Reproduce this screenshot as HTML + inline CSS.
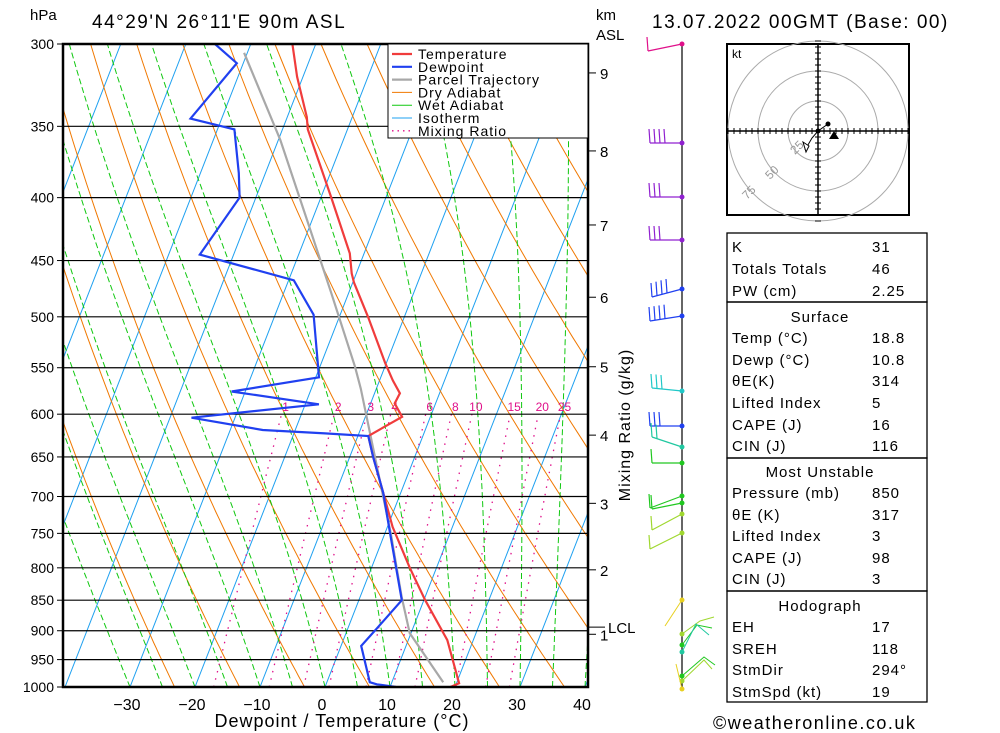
<!DOCTYPE html>
<html><head><meta charset="utf-8"><style>
html,body{margin:0;padding:0;background:#fff;}
svg{display:block;font-family:"Liberation Sans",sans-serif;}
</style></head><body>
<svg id="chart" width="1000" height="733" viewBox="0 0 1000 733" xmlns="http://www.w3.org/2000/svg">
<defs><clipPath id="plotclip"><rect x="63" y="44" width="525" height="643"/></clipPath></defs>
<rect width="1000" height="733" fill="#fff"/>
<g id="bg" clip-path="url(#plotclip)"></g>
<g id="prof" clip-path="url(#plotclip)"></g>
<g id="axes"></g>
<g id="legend">
 <rect x="388" y="44" width="200" height="94" fill="#fff" stroke="#000" stroke-width="1"/>
</g>
<text x="30" y="20" font-size="15">hPa</text>
<text x="92" y="28" font-size="19" letter-spacing="1.5">44°29'N 26°11'E 90m ASL</text>
<text x="596" y="20" font-size="15">km</text>
<text x="596" y="40" font-size="15">ASL</text>
<text x="652" y="28" font-size="19" letter-spacing="1.5">13.07.2022 00GMT (Base: 00)</text>
<text x="342" y="727" font-size="18" text-anchor="middle" letter-spacing="1">Dewpoint / Temperature (°C)</text>
<text transform="translate(630,425) rotate(-90)" font-size="16" text-anchor="middle" letter-spacing="1">Mixing Ratio (g/kg)</text>
<g id="winds"></g>
<g id="hodo"></g>
<g id="table"></g>
<text x="713" y="729" font-size="18" letter-spacing="1.5">©weatheronline.co.uk</text>
</svg>
<script>
// ---- data ----
const pressureLevels=[300,350,400,450,500,550,600,650,700,750,800,850,900,950,1000];
const tempTicks=[-30,-20,-10,0,10,20,30,40];
const tempP=[1000,993,916,850,800,741,695,650,625,603,588,577,563,545,500,469,461,444,400,352,344,319,300];
const tempT=[19.3,20.4,16.0,10.2,5.9,0.8,-2.7,-6.4,-8.4,-4.35,-6.3,-6.1,-8.0,-10.2,-15.6,-19.8,-20.7,-22.2,-28.4,-36.1,-37.0,-40.9,-43.6];
const dewP=[1000,995,991,926,895,850,750,695,650,625,622,618,604,589,575,560,498,467,445,400,382,352,345,311,300];
const dewT=[10.9,7.8,6.6,3.1,4.5,6.6,0.8,-2.7,-6.4,-8.4,-15.2,-25.0,-36.7,-17.9,-32.1,-19.5,-24.1,-29.2,-45.2,-42.5,-44.1,-47.4,-54.8,-51.0,-55.5];
const parcelP=[991,904,845,750,572,549,478,417,359,305];
const parcelT=[17.9,9.8,6.4,0.9,-12.4,-14.6,-22.7,-30.8,-39.7,-50.5];
const mixRatios=[1,2,3,4,6,8,10,15,20,25];
const kmLabels=[1,2,3,4,5,6,7,8,9];
const kmPressure=[906,803,709,624,549,482,421,366.5,316.7];
const lclPressure=894;
// ---- axes ----
const NS="http://www.w3.org/2000/svg";
function yOf(p){return 44+Math.log(p/300)/Math.log(1000/300)*643;}
function xOf(T,p){return 325+6.5*T+0.39*(687-yOf(p));}
function mk(tag,attrs,parent){const e=document.createElementNS(NS,tag);for(const k in attrs)e.setAttribute(k,attrs[k]);parent.appendChild(e);return e;}
function pathFrom(ps,ts){return ps.map((p,i)=>(i?'L':'M')+xOf(ts[i],p).toFixed(1)+','+yOf(p).toFixed(1)).join('');}
const bg=document.getElementById('bg');
for(let T=-130;T<=40;T+=10){
 const l=mk('line',{x1:xOf(T,1000),y1:yOf(1000),x2:xOf(T,300),y2:yOf(300),stroke:'#1ea0f0','stroke-width':1},bg);
 
 
}
for(let th=250;th<=520;th+=10){
 const ps=[],ts=[];for(let p=1000;p>=300;p-=10){ps.push(p);ts.push(th*Math.pow(p/1000,0.2857)-273.15);}
 const e=mk('path',{d:pathFrom(ps,ts),fill:'none',stroke:'#f07800','stroke-width':1},bg);
 
 
}
function es(Tc){return 6.112*Math.exp(17.67*Tc/(Tc+243.5));}
for(let tw=-30;tw<=45;tw+=5){
 const ps=[],ts=[];let T=tw+273.15;
 for(let p=1000;p>=300;p-=5){ps.push(p);ts.push(T-273.15);
  const e=es(T-273.15),rs=0.622*e/(p-e);
  const dTdp=(1/p)*(287*T+2.5e6*rs)/(1004+2.5e6*2.5e6*rs*0.622/(287*T*T));
  T-=dTdp*5;}
 const e=mk('path',{d:pathFrom(ps,ts),fill:'none',stroke:'#10c810','stroke-width':1,'stroke-dasharray':'6,3'},bg);
 
 
}
function tdFromW(w,p){const e=w*p/(622+w);const a=Math.log(e/6.112);return 243.5*a/(17.67-a);}
mixRatios.forEach(w=>{
 const ps=[],ts=[];for(let p=1000;p>=600;p-=10){ps.push(p);ts.push(tdFromW(w,p));}
 const e=mk('path',{d:pathFrom(ps,ts),fill:'none',stroke:'#e0108a','stroke-width':1.3,'stroke-dasharray':'1.5,6'},bg);
 
 
 const t=mk('text',{x:xOf(tdFromW(w,600),600)+4,y:yOf(600)-3,'font-size':12,fill:'#e0108a','text-anchor':'middle'},bg);
 t.textContent=w;
 
 
});
const ax=document.getElementById('axes');
pressureLevels.forEach(p=>{
 const y=yOf(p);
 const l=mk('line',{x1:63,y1:y,x2:588,y2:y,stroke:'#000','stroke-width':1.2},bg);
 
 
 const tk=mk('line',{x1:57,y1:y,x2:63,y2:y,stroke:'#000'},ax);
 
 
 const t=mk('text',{x:54,y:y+5,'font-size':14,'text-anchor':'end'},ax);
 t.textContent=p;
 
 
});
const frame=mk('rect',{x:63,y:44,width:525,height:643,fill:'none',stroke:'#000','stroke-width':2.5},ax);


tempTicks.forEach(T=>{
 const x=xOf(T,1000)-3;
 const t=mk('text',{x:x,y:710,'font-size':16,'text-anchor':'middle'},ax);
 t.textContent=T<0?'−'+(-T):T;
 
 
});
kmLabels.forEach((k,i)=>{
 const y=yOf(kmPressure[i]);
 const tk=mk('line',{x1:588,y1:y,x2:596,y2:y,stroke:'#000'},ax);
 
 
 const t=mk('text',{x:600,y:y+6,'font-size':15},ax);
 t.textContent=k;
 
 
});
{const y=yOf(lclPressure);const tk=mk('line',{x1:588,y1:y,x2:605,y2:y,stroke:'#000'},ax);
 
 const t=mk('text',{x:608,y:y+6,'font-size':15},ax);t.textContent='LCL';
 }
const pr=document.getElementById('prof');
const pc=mk('path',{d:pathFrom(parcelP,parcelT),fill:'none',stroke:'#a8a8a8','stroke-width':2.2},pr);


const tl=mk('path',{d:pathFrom(tempP,tempT),fill:'none',stroke:'#f03c3c','stroke-width':2.2},pr);


const dl=mk('path',{d:pathFrom(dewP,dewT),fill:'none',stroke:'#2040f0','stroke-width':2.2},pr);


const lg=document.getElementById('legend');
const legNames=['Temperature','Dewpoint','Parcel Trajectory','Dry Adiabat','Wet Adiabat','Isotherm','Mixing Ratio'];
const legColors=['#f03c3c','#2040f0','#a8a8a8','#f07800','#10c810','#1ea0f0','#e0108a'];
const legWidths=[2.2,2.2,2.2,1,1,1,1.3];
legNames.forEach((n,i)=>{
 const y=54+i*12.8;
 const l=mk('line',{x1:392,y1:y,x2:412,y2:y,stroke:legColors[i],'stroke-width':legWidths[i]},lg);
 if(i===6)l.setAttribute('stroke-dasharray','1.5,4');
 
 
 const t=mk('text',{x:418,y:y+5,'font-size':14,'letter-spacing':1},lg);
 t.textContent=n;
 
 
});
const wg=document.getElementById('winds');
const st=mk('line',{x1:682,y1:44,x2:682,y2:690,stroke:'#000','stroke-width':1.2},wg);


const barbY=[44,143,197,240,289,316,391,426,447,463,496,503,514,533];
const barbEndX=[648,650,650,650,652,650,652,650,652,652,650,652,652,650];
const barbEndY=[51,143,197,240,297,321,388,426,437,463,508,509,530,549];
const barbN=[1,4,3,3,4,4,3,3,2,1,1,1,1,1];
const barbCol=['#e0108a','#9020d0','#9020d0','#9020d0','#2040f0','#2040f0','#20c8c8','#2040f0','#20c8a0','#20c820','#20c820','#20c820','#a0d830','#a0d830'];
barbY.forEach((y,i)=>{
 const c=barbCol[i];
 const l=mk('line',{x1:682,y1:y,x2:barbEndX[i],y2:barbEndY[i],stroke:c,'stroke-width':1.2},wg);
 
 
 for(let k=0;k<barbN[i];k++){
  const fx=barbEndX[i]+k*5,fy=barbEndY[i]+(y-barbEndY[i])*(k*5)/(682-barbEndX[i]);
  const f=mk('line',{x1:fx,y1:fy,x2:fx-1,y2:fy-14,stroke:c,'stroke-width':1.2},wg);
  
  
 }
 const d=mk('circle',{cx:682,cy:y,r:2.5,fill:c},wg);
 
 
});
const lowBarbs=[[600,'#e8d020','M682,600 L665,626'],[634,'#a0d830','M682,634 L700,621 L714,617'],[645,'#20c820','M682,645 L697,625 L712,628'],[652,'#20c8a0','M682,652 L696,624 L709,635'],[676,'#20c820','M682,676 L704,657 L715,665'],[681,'#a0d830','M682,681 L704,660 L712,669'],[689,'#e8d020','M682,689 L676,664']];
lowBarbs.forEach(b=>{
 const p=mk('path',{d:b[2],fill:'none',stroke:b[1],'stroke-width':1},wg);
 
 
 const d=mk('circle',{cx:682,cy:b[0],r:2.5,fill:b[1]},wg);
 
 
});
const hg=document.getElementById('hodo');
const hb=mk('rect',{x:727,y:44,width:182,height:171,fill:'none',stroke:'#000','stroke-width':2},hg);

const hcx=818,hcy=131;
[30,60,90].forEach(r=>{const c=mk('circle',{cx:hcx,cy:hcy,r:r,fill:'none',stroke:'#aaa'},hg);
 });
mk('line',{x1:728,y1:hcy,x2:908,y2:hcy,stroke:'#000','stroke-width':1.5},hg);
mk('line',{x1:hcx,y1:45,x2:hcx,y2:214,stroke:'#000','stroke-width':1.5},hg);
for(let d=-90;d<=90;d+=6){mk('line',{x1:hcx+d,y1:hcy-3,x2:hcx+d,y2:hcy+3,stroke:'#000'},hg);mk('line',{x1:hcx-3,y1:hcy+d,x2:hcx+3,y2:hcy+d,stroke:'#000'},hg);}
[['25',795,155],['50',770,180],['75',747,200]].forEach(a=>{const t=mk('text',{x:a[1],y:a[2],'font-size':12,fill:'#999',transform:'rotate(-45 '+a[1]+' '+a[2]+')'},hg);t.textContent=a[0];
 });
const kt=mk('text',{x:732,y:58,'font-size':12},hg);kt.textContent='kt';

mk('path',{d:'M805,150 L812,138 L818,131 L828,124',fill:'none',stroke:'#000'},hg);
mk('circle',{cx:828,cy:124,r:2.5,fill:'#000'},hg);
mk('circle',{cx:818,cy:131,r:2.5,fill:'#000'},hg);
mk('path',{d:'M834,131 L829,139 L839,139 Z',fill:'#000'},hg);
mk('path',{d:'M803,142 L809,146 L806,152 Z',fill:'#fff',stroke:'#000'},hg);
const tb=document.getElementById('table');
[[233,302],[302,458],[458,591],[591,702]].forEach(s=>{const r=mk('rect',{x:727,y:s[0],width:200,height:s[1]-s[0],fill:'none',stroke:'#000','stroke-width':1.3},tb);
 });
const rows=[['K','31',246],['Totals Totals','46',268],['PW (cm)','2.25',290],['#Surface','',316],['Temp (°C)','18.8',337],['Dewp (°C)','10.8',359],['θE(K)','314',380],['Lifted Index','5',402],['CAPE (J)','16',424],['CIN (J)','116',445],['#Most Unstable','',471],['Pressure (mb)','850',492],['θE (K)','317',514],['Lifted Index','3',535],['CAPE (J)','98',557],['CIN (J)','3',578],['#Hodograph','',605],['EH','17',626],['SREH','118',648],['StmDir','294°',669],['StmSpd (kt)','19',691]];
rows.forEach(r=>{
 if(r[0][0]==='#'){const t=mk('text',{x:820,y:r[2]+6,'font-size':15,'text-anchor':'middle','letter-spacing':1},tb);t.textContent=r[0].slice(1);
  return;}
 const a=mk('text',{x:732,y:r[2]+6,'font-size':15,'letter-spacing':1},tb);a.textContent=r[0];
 
 const b=mk('text',{x:872,y:r[2]+6,'font-size':15,'letter-spacing':1},tb);b.textContent=r[1];
 
});
</script>
</body></html>
